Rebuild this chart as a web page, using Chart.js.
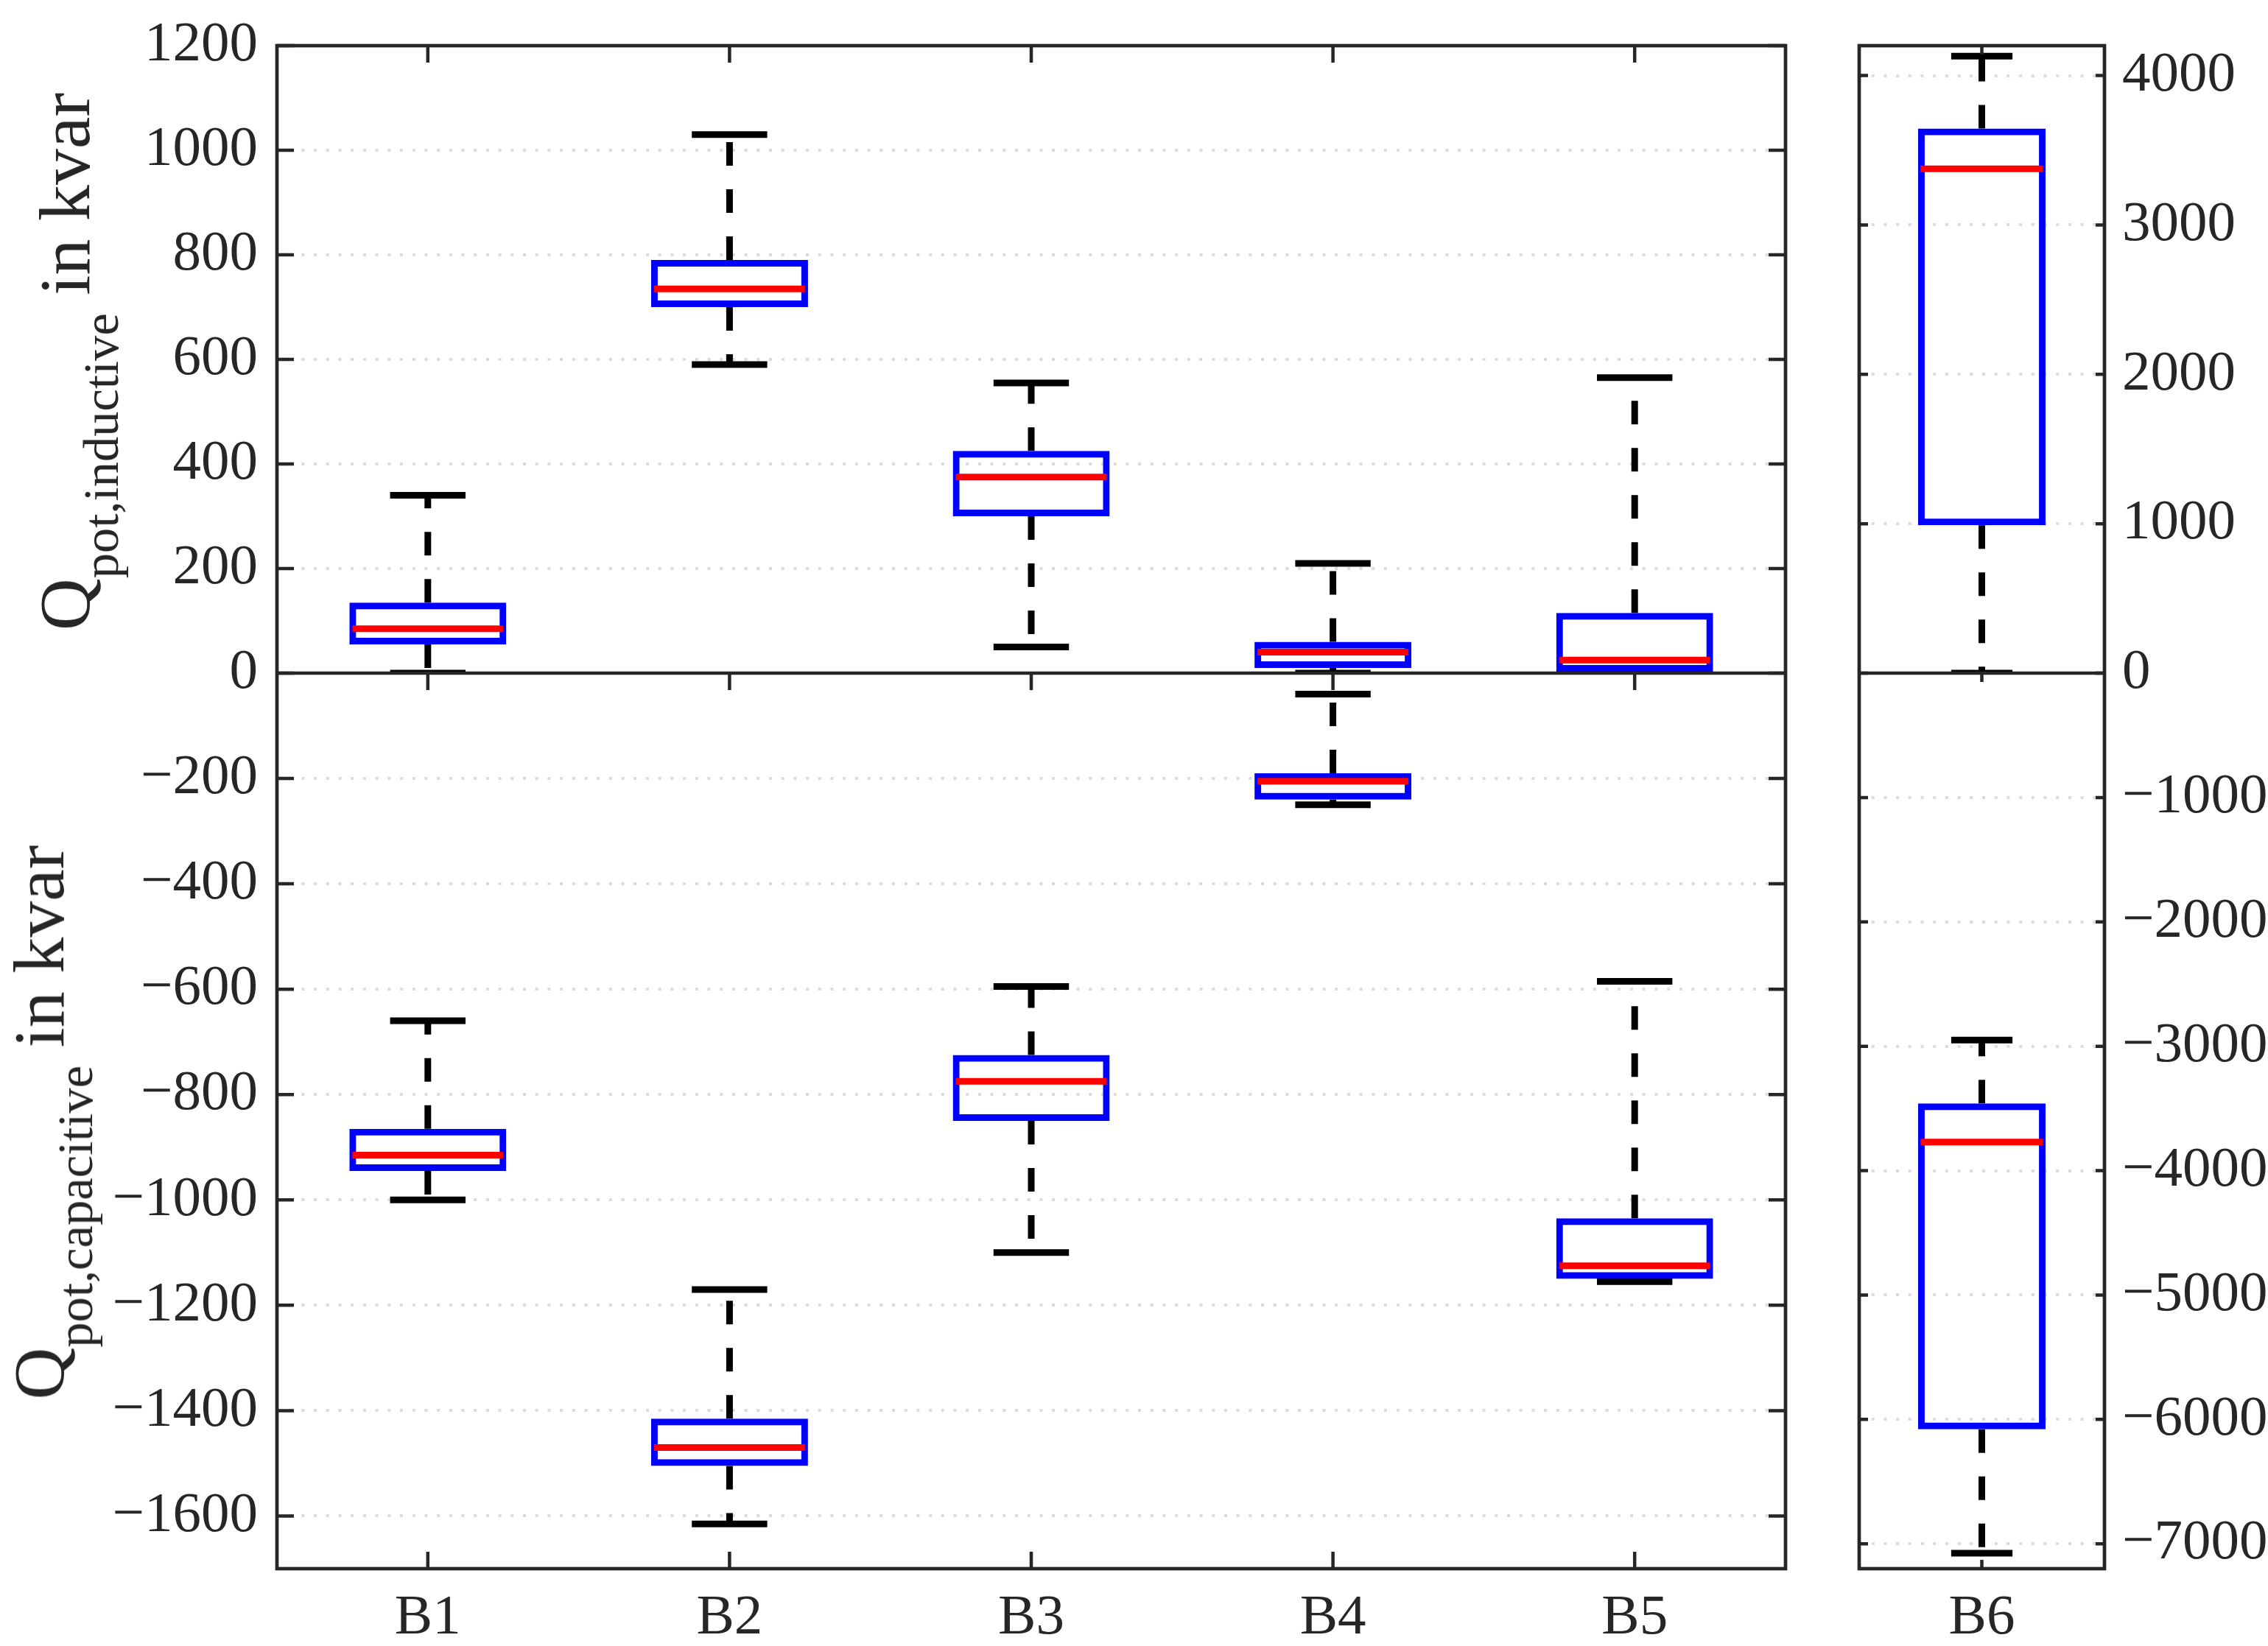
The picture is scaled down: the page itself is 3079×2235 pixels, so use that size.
<!DOCTYPE html>
<html>
<head>
<meta charset="utf-8">
<script src="https://cdn.jsdelivr.net/npm/chart.js@4/dist/chart.umd.min.js"></script>
<style>
  html, body { margin: 0; padding: 0; background: #fff; }
  #wrap { position: relative; width: 3079px; height: 2235px; overflow: hidden; }
  #left { position: absolute; left: 0; top: 0; }
  #right { position: absolute; left: 2470px; top: 0; }
  .ylab {
    position: absolute;
    font-family: "Liberation Serif", serif;
    font-size: 98px;
    line-height: 1;
    color: #262626;
    white-space: nowrap;
    transform: translate(-50%, -50%) rotate(-90deg);
  }
  .ylab sub { font-size: 0.7em; vertical-align: baseline; position: relative; top: 0.57em; }
</style>
</head>
<body>
<div id="wrap">
  <canvas id="left" width="2470" height="2235"></canvas>
  <canvas id="right" width="609" height="2235"></canvas>
  <div class="ylab" style="left:88px; top:491px">Q<sub>pot,inductive</sub> in kvar</div>
  <div class="ylab" style="left:53px; top:1524px">Q<sub>pot,capacitive</sub> in kvar</div>
</div>
<script>
// categories
const leftLabels = ['B1', 'B2', 'B3', 'B4', 'B5'];
const rightLabels = ['B6'];

// inductive potential (upper half), kvar
const indMin = [0, 590, 50, 0, 0];
const indQ1 = [55, 700, 300, 10, 0];
const indMed = [85, 735, 375, 40, 25];
const indQ3 = [135, 790, 425, 60, 115];
const indMax = [340, 1030, 555, 210, 565];

// capacitive potential (lower half), kvar
const capMin = [-1000, -1615, -1100, -250, -1155];
const capQ1 = [-945, -1505, -850, -240, -1150];
const capMed = [-915, -1470, -775, -205, -1125];
const capQ3 = [-865, -1415, -725, -190, -1035];
const capMax = [-660, -1170, -595, -40, -585];

// B6 has its own scale
const b6IndMin = [0];
const b6IndQ1 = [990];
const b6IndMed = [3375];
const b6IndQ3 = [3645];
const b6IndMax = [4130];
const b6CapMin = [-7075];
const b6CapQ1 = [-6080];
const b6CapMed = [-3770];
const b6CapQ3 = [-3460];
const b6CapMax = [-2950];

// axis ranges and ticks
const leftTopRange = [0, 1200];
const leftBotRange = [-1700, 0];
const rightTopRange = [0, 4200];
const rightBotRange = [-7200, 0];
const leftTopTicks = [0, 200, 400, 600, 800, 1000, 1200];
const leftBotTicks = [-1600, -1400, -1200, -1000, -800, -600, -400, -200];
const rightTopTicks = [0, 1000, 2000, 3000, 4000];
const rightBotTicks = [-7000, -6000, -5000, -4000, -3000, -2000, -1000];

Chart.defaults.font.family = '"Liberation Serif", serif';
Chart.defaults.font.size = 77;
Chart.defaults.color = '#262626';

const ink = '#262626';

function fmt(v) {
  return v < 0 ? '\u2212' + Math.abs(v) : String(v);
}

// width of one category slot
function slot(c) {
  return c.chart.scales.x.width / c.chart.data.labels.length;
}

function boxSets(labels, mn, q1, med, q3, mx, axis) {
  const whisk = [];
  const caps = [];
  labels.forEach((l, i) => {
    whisk.push({x: l, y: q3[i]}, {x: l, y: mx[i]}, {x: l, y: null});
    whisk.push({x: l, y: q1[i]}, {x: l, y: mn[i]}, {x: l, y: null});
    caps.push({x: l, y: mx[i]}, {x: l, y: mn[i]});
  });
  return [
    {
      type: 'bar', yAxisID: axis, order: 1,
      data: labels.map((l, i) => [q1[i], q3[i]]),
      backgroundColor: 'rgba(0,0,0,0)', borderColor: '#0000ff',
      borderWidth: 9, borderSkipped: false, grouped: false,
      barPercentage: 0.52, categoryPercentage: 1
    },
    {
      type: 'line', yAxisID: axis, order: 3,
      data: whisk, borderColor: '#000', borderWidth: 9,
      borderDash: [32, 32], pointRadius: 0, spanGaps: false, fill: false
    },
    {
      type: 'line', yAxisID: axis, order: 2, showLine: false,
      data: caps, pointStyle: 'line', pointBorderColor: '#000',
      pointBorderWidth: 9, pointRadius: c => slot(c) * 0.125
    },
    {
      type: 'line', yAxisID: axis, order: 0, showLine: false,
      data: labels.map((l, i) => ({x: l, y: med[i]})),
      pointStyle: 'line', pointBorderColor: '#ff0000',
      pointBorderWidth: 9, pointRadius: c => slot(c) * 0.25
    }
  ];
}

function yScale(pos, range, ticks, weight, width, pad) {
  return {
    type: 'linear', position: pos, stack: 'q', stackWeight: weight,
    min: range[0], max: range[1],
    afterBuildTicks: s => { s.ticks = ticks.map(v => ({value: v})); },
    afterFit: s => { s.width = width; s.paddingTop = 0; s.paddingBottom = 0; },
    grid: {
      color: c => (c.tick && c.tick.value === 0) ? 'rgba(0,0,0,0)' : '#dcdcdc',
      lineWidth: 4, drawTicks: false
    },
    border: { display: false, dash: [4, 12.7] },
    ticks: { padding: pad, autoSkip: false, callback: v => fmt(v) }
  };
}

function xScale() {
  return {
    type: 'category', offset: true,
    grid: { display: false, drawTicks: false },
    border: { display: false },
    ticks: { padding: 22 },
    afterFit: s => { s.height = 105; s.paddingLeft = 0; s.paddingRight = 0; }
  };
}

// spines, zero line and inward ticks like the matplotlib figure
const framePlugin = {
  id: 'frame',
  afterDatasetsDraw(chart, args, opts) {
    const {ctx, chartArea: a, scales} = chart;
    const zero = scales.yTop.getPixelForValue(0);
    const L = opts.tickLen;
    ctx.save();
    ctx.strokeStyle = ink;
    ctx.lineWidth = 4.5;
    ['yTop', 'yBot'].forEach(id => {
      scales[id].ticks.forEach((t, i) => {
        const y = scales[id].getPixelForTick(i);
        ctx.beginPath();
        ctx.moveTo(a.left, y); ctx.lineTo(a.left + L, y);
        ctx.moveTo(a.right, y); ctx.lineTo(a.right - L, y);
        ctx.stroke();
      });
    });
    scales.x.ticks.forEach((t, i) => {
      const x = scales.x.getPixelForTick(i);
      ctx.beginPath();
      ctx.moveTo(x, a.top); ctx.lineTo(x, a.top + L);
      ctx.moveTo(x, zero); ctx.lineTo(x, zero + L);
      ctx.moveTo(x, a.bottom); ctx.lineTo(x, a.bottom - L);
      ctx.stroke();
    });
    ctx.lineWidth = 4.7;
    ctx.strokeRect(a.left, a.top, a.right - a.left, a.bottom - a.top);
    ctx.beginPath();
    ctx.moveTo(a.left, zero); ctx.lineTo(a.right, zero);
    ctx.stroke();
    ctx.restore();
  }
};

// left-side stacks are laid out in reverse order, so the lower half is listed first
const leftChart = new Chart(document.getElementById('left'), {
  type: 'bar',
  data: {
    labels: leftLabels,
    datasets: [
      ...boxSets(leftLabels, indMin, indQ1, indMed, indQ3, indMax, 'yTop'),
      ...boxSets(leftLabels, capMin, capQ1, capMed, capQ3, capMax, 'yBot')
    ]
  },
  options: {
    responsive: false, animation: false, events: [],
    layout: { padding: { left: 0, right: 46, top: 62, bottom: 0 } },
    plugins: { legend: { display: false }, tooltip: { enabled: false }, frame: { tickLen: 23 } },
    scales: {
      x: xScale(),
      yBot: yScale('left', leftBotRange, leftBotTicks, 1216, 376, 26),
      yTop: yScale('left', leftTopRange, leftTopTicks, 852, 376, 26)
    }
  },
  plugins: [framePlugin]
});

const rightChart = new Chart(document.getElementById('right'), {
  type: 'bar',
  data: {
    labels: rightLabels,
    datasets: [
      ...boxSets(rightLabels, b6IndMin, b6IndQ1, b6IndMed, b6IndQ3, b6IndMax, 'yTop'),
      ...boxSets(rightLabels, b6CapMin, b6CapQ1, b6CapMed, b6CapQ3, b6CapMax, 'yBot')
    ]
  },
  options: {
    responsive: false, animation: false, events: [],
    layout: { padding: { left: 54, right: 0, top: 62, bottom: 0 } },
    plugins: { legend: { display: false }, tooltip: { enabled: false }, frame: { tickLen: 12 } },
    scales: {
      x: xScale(),
      yTop: yScale('right', rightTopRange, rightTopTicks, 852, 222, 24),
      yBot: yScale('right', rightBotRange, rightBotTicks, 1216, 222, 24)
    }
  },
  plugins: [framePlugin]
});
</script>
</body>
</html>
